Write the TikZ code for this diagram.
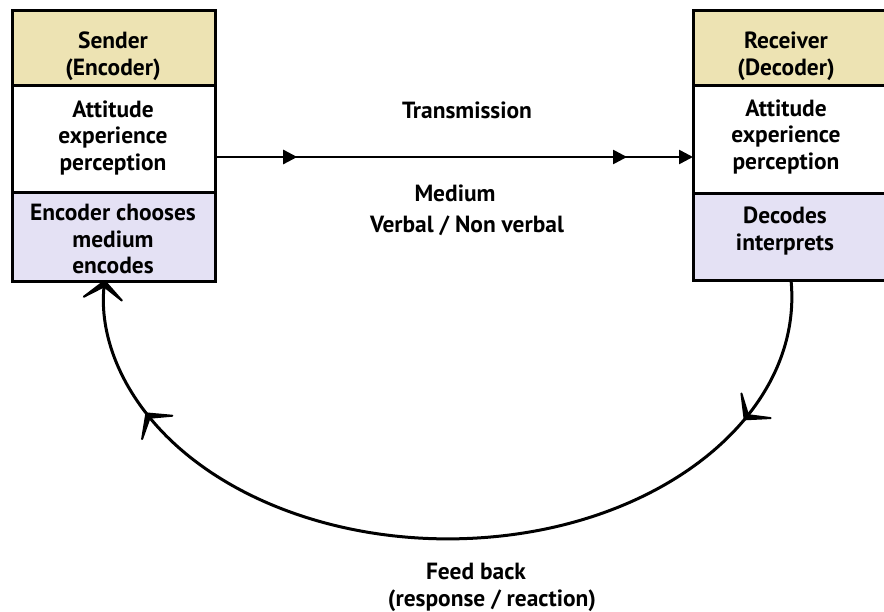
\documentclass[tikz,border=0pt]{standalone}
\usepackage{fontspec}
\setmainfont{PT Sans}
\usetikzlibrary{arrows.meta,decorations.markings}

\definecolor{headtan}{HTML}{EDE3B3}
\definecolor{lowlilac}{HTML}{E4E1F4}

\tikzset{
  sect/.style={draw=black, line width=3bp, inner sep=0pt, outer sep=0pt,
               anchor=north west},
  lbl/.style={font=\bfseries\fontsize{23.5}{27}\selectfont, align=center,
              inner sep=0pt, text=black},
  flowtip/.tip={Triangle[length=14bp,width=14bp]},
  backtip/.tip={Stealth[length=26bp,width=56bp,inset=18bp,line width=2.5bp,round]},
}

\begin{document}
\begin{tikzpicture}[x=1bp,y=-1bp]
  \useasboundingbox[fill=white] (0,0) rectangle (884,612);
  \clip (0,0) rectangle (884,612);

  % sender column
  \node[sect, fill=headtan,  minimum width=203bp, minimum height=75bp]  (sTop) at (12,11)  {};
  \node[sect, fill=white,    minimum width=203bp, minimum height=107bp] (sMid) at (12,86)  {};
  \node[sect, fill=lowlilac, minimum width=203bp, minimum height=88bp]  (sBot) at (12,193) {};

  % receiver column (runs past the right edge)
  \node[sect, fill=headtan,  minimum width=215bp, minimum height=75bp]  (rTop) at (693,11)  {};
  \node[sect, fill=white,    minimum width=215bp, minimum height=108bp] (rMid) at (693,86)  {};
  \node[sect, fill=lowlilac, minimum width=215bp, minimum height=86bp]  (rBot) at (693,194) {};

  % box texts
  \node[lbl] (sTopT) at (113,56.5) {Sender\\(Encoder)};
  \node[lbl] (sMidT) at (113,138)  {Attitude\\experience\\perception};
  \node[lbl] (sBotT) at (113,239)  {Encoder chooses\\medium\\encodes};
  \node[lbl] (rTopT) at (786,56.5) {Receiver\\(Decoder)};
  \node[lbl] (rMidT) at (786,137)  {Attitude\\experience\\perception};
  \node[lbl] (rBotT) at (785,231)  {Decodes\\interprets};

  % channel texts
  \node[lbl] (trans)  at (467,110) {Transmission};
  \node[lbl] (medium) at (455,193) {Medium};
  \node[lbl] (verbal) at (467,226) {Verbal / Non verbal};
  \node[lbl] (fb)     at (476,571) {Feed back};
  \node[lbl] (resp)   at (492,601) {(response / reaction)};

  % transmission line
  \draw[line width=2.5bp, -{flowtip},
        postaction={decorate},
        decoration={markings,
          mark=at position 0.172 with {\arrow{flowtip}},
          mark=at position 0.862 with {\arrow{flowtip}}}]
    (sMid.east |- 0,157) -- (rMid.west |- 0,157);

  % feedback loop from receiver back to sender
  \draw[line width=3bp, -{backtip},
        postaction={decorate},
        decoration={markings,
          mark=at position 0.158 with {\arrow{backtip}},
          mark=at position 0.852 with {\arrow{backtip}}}]
    ([xshift=98bp]rBot.south west)
      arc[start angle=4, end angle=-184, x radius=344bp, y radius=242bp];
\end{tikzpicture}
\end{document}
